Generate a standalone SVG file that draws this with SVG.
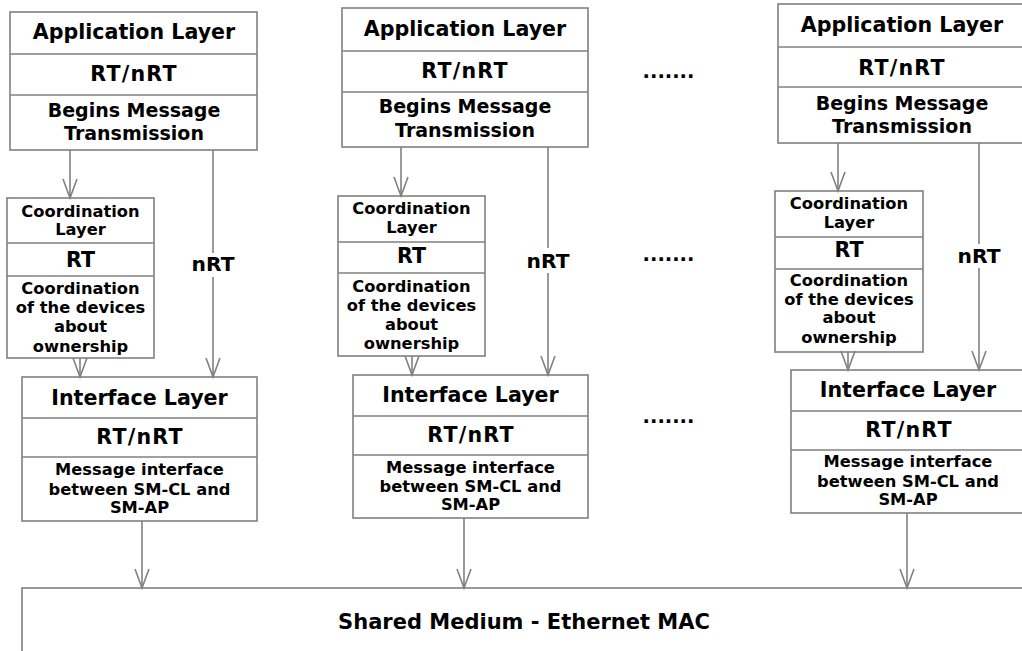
<svg xmlns="http://www.w3.org/2000/svg" width="1022" height="651" viewBox="0 0 1022 651">
  <defs>
    <style>
      .box { fill: #ffffff; stroke: #808080; stroke-width: 1.6; }
      .sep { stroke: #808080; stroke-width: 1.6; }
      .wire { fill: none; stroke: #808080; stroke-width: 1.6; }
      text { font-family: "DejaVu Sans", Verdana, sans-serif; font-weight: bold; fill: #000000; text-anchor: middle; }
      .title { font-size: 20.6px; }
      .rtn { font-size: 20.6px; letter-spacing: 1.2px; }
      .rt { font-size: 20.6px; }
      .mid { font-size: 19px; }
      .small { font-size: 16.3px; }
      .lbl { font-size: 20.3px; }
      .dots { font-size: 19.5px; }
      .bus { font-size: 21px; }
    </style>
    <marker id="vhead" markerUnits="userSpaceOnUse" viewBox="-22 -10 24 20" refX="0" refY="0" markerWidth="24" markerHeight="20" orient="auto" overflow="visible">
      <path d="M-19,-7 L0,0 L-19,7" fill="none" stroke="#808080" stroke-width="1.6"/>
    </marker>
  </defs>

  <!-- column 1 -->
  <g id="app1">
    <rect class="box" x="10" y="12" width="247" height="138"/>
    <line class="sep" x1="10" y1="54" x2="257" y2="54"/>
    <line class="sep" x1="10" y1="95" x2="257" y2="95"/>
    <text class="title" x="134" y="39">Application Layer</text>
    <text class="rtn" x="134" y="81">RT/nRT</text>
    <text class="mid" x="134" y="117">Begins Message</text>
    <text class="mid" x="134" y="140">Transmission</text>
  </g>
  <g id="coord1">
    <rect class="box" x="7" y="198" width="147" height="160"/>
    <line class="sep" x1="7" y1="243" x2="154" y2="243"/>
    <line class="sep" x1="7" y1="276" x2="154" y2="276"/>
    <text class="small" x="80.5" y="217">Coordination</text>
    <text class="small" x="80.5" y="235">Layer</text>
    <text class="rt" x="80.5" y="267">RT</text>
    <text class="small" x="80.5" y="294">Coordination</text>
    <text class="small" x="80.5" y="313">of the devices</text>
    <text class="small" x="80.5" y="332">about</text>
    <text class="small" x="80.5" y="352">ownership</text>
  </g>
  <g id="iface1">
    <rect class="box" x="22" y="377" width="235" height="144"/>
    <line class="sep" x1="22" y1="418" x2="257" y2="418"/>
    <line class="sep" x1="22" y1="457" x2="257" y2="457"/>
    <text class="title" x="139.5" y="405">Interface Layer</text>
    <text class="rtn" x="140" y="444">RT/nRT</text>
    <text class="small" x="139.5" y="475">Message interface</text>
    <text class="small" x="139.5" y="495">between SM-CL and</text>
    <text class="small" x="139.5" y="513">SM-AP</text>
  </g>

  <!-- column 2 -->
  <g id="app2">
    <rect class="box" x="342" y="8" width="246" height="139"/>
    <line class="sep" x1="342" y1="51" x2="588" y2="51"/>
    <line class="sep" x1="342" y1="92" x2="588" y2="92"/>
    <text class="title" x="465" y="36">Application Layer</text>
    <text class="rtn" x="465" y="78">RT/nRT</text>
    <text class="mid" x="465" y="113">Begins Message</text>
    <text class="mid" x="465" y="137">Transmission</text>
  </g>
  <g id="coord2">
    <rect class="box" x="338" y="196" width="147" height="160"/>
    <line class="sep" x1="338" y1="242" x2="485" y2="242"/>
    <line class="sep" x1="338" y1="273" x2="485" y2="273"/>
    <text class="small" x="411.5" y="214">Coordination</text>
    <text class="small" x="411.5" y="233">Layer</text>
    <text class="rt" x="411.5" y="263">RT</text>
    <text class="small" x="411.5" y="292">Coordination</text>
    <text class="small" x="411.5" y="311">of the devices</text>
    <text class="small" x="411.5" y="330">about</text>
    <text class="small" x="411.5" y="349">ownership</text>
  </g>
  <g id="iface2">
    <rect class="box" x="353" y="375" width="235" height="143"/>
    <line class="sep" x1="353" y1="416" x2="588" y2="416"/>
    <line class="sep" x1="353" y1="455" x2="588" y2="455"/>
    <text class="title" x="470.5" y="402">Interface Layer</text>
    <text class="rtn" x="471" y="442">RT/nRT</text>
    <text class="small" x="470.5" y="473">Message interface</text>
    <text class="small" x="470.5" y="492">between SM-CL and</text>
    <text class="small" x="470.5" y="510">SM-AP</text>
  </g>

  <!-- column 3 (runs past the right edge) -->
  <g id="app3">
    <rect class="box" x="778" y="4" width="248" height="139"/>
    <line class="sep" x1="778" y1="47" x2="1026" y2="47"/>
    <line class="sep" x1="778" y1="87" x2="1026" y2="87"/>
    <text class="title" x="902" y="32">Application Layer</text>
    <text class="rtn" x="902" y="75">RT/nRT</text>
    <text class="mid" x="902" y="110">Begins Message</text>
    <text class="mid" x="902" y="133">Transmission</text>
  </g>
  <g id="coord3">
    <rect class="box" x="775" y="191" width="148" height="161"/>
    <line class="sep" x1="775" y1="237" x2="923" y2="237"/>
    <line class="sep" x1="775" y1="269" x2="923" y2="269"/>
    <text class="small" x="849" y="209">Coordination</text>
    <text class="small" x="849" y="228">Layer</text>
    <text class="rt" x="849" y="257">RT</text>
    <text class="small" x="849" y="286">Coordination</text>
    <text class="small" x="849" y="305">of the devices</text>
    <text class="small" x="849" y="323">about</text>
    <text class="small" x="849" y="343">ownership</text>
  </g>
  <g id="iface3">
    <rect class="box" x="791" y="370" width="235" height="143"/>
    <line class="sep" x1="791" y1="411" x2="1026" y2="411"/>
    <line class="sep" x1="791" y1="450" x2="1026" y2="450"/>
    <text class="title" x="908" y="397">Interface Layer</text>
    <text class="rtn" x="909" y="437">RT/nRT</text>
    <text class="small" x="908" y="467">Message interface</text>
    <text class="small" x="908" y="487">between SM-CL and</text>
    <text class="small" x="908" y="505">SM-AP</text>
  </g>

  <!-- shared bus -->
  <g id="bus">
    <rect class="box" x="22" y="588" width="1020" height="90"/>
    <text class="bus" x="524" y="629">Shared Medium - Ethernet MAC</text>
  </g>

  <!-- ellipses between columns -->
  <g id="ellipses">
    <text class="dots" x="668.5" y="78">.......</text>
    <text class="dots" x="668.5" y="261">.......</text>
    <text class="dots" x="668.5" y="423">.......</text>
  </g>

  <!-- connectors -->
  <g id="connectors">
    <line class="wire" x1="70" y1="150" x2="70" y2="198" marker-end="url(#vhead)"/>
    <line class="wire" x1="213" y1="150" x2="213" y2="253"/>
    <line class="wire" x1="213" y1="277" x2="213" y2="377" marker-end="url(#vhead)"/>
    <line class="wire" x1="80" y1="358" x2="80" y2="377" marker-end="url(#vhead)"/>
    <line class="wire" x1="142" y1="521" x2="142" y2="588" marker-end="url(#vhead)"/>

    <line class="wire" x1="401" y1="147" x2="401" y2="196" marker-end="url(#vhead)"/>
    <line class="wire" x1="548" y1="147" x2="548" y2="248"/>
    <line class="wire" x1="548" y1="273" x2="548" y2="375" marker-end="url(#vhead)"/>
    <line class="wire" x1="412" y1="356" x2="412" y2="375" marker-end="url(#vhead)"/>
    <line class="wire" x1="464" y1="518" x2="464" y2="588" marker-end="url(#vhead)"/>

    <line class="wire" x1="838" y1="143" x2="838" y2="191" marker-end="url(#vhead)"/>
    <line class="wire" x1="979" y1="143" x2="979" y2="244"/>
    <line class="wire" x1="979" y1="268" x2="979" y2="370" marker-end="url(#vhead)"/>
    <line class="wire" x1="848" y1="352" x2="848" y2="370" marker-end="url(#vhead)"/>
    <line class="wire" x1="907" y1="513" x2="907" y2="588" marker-end="url(#vhead)"/>
    <text class="lbl" x="213" y="271">nRT</text>
    <text class="lbl" x="548" y="268">nRT</text>
    <text class="lbl" x="979" y="263">nRT</text>
  </g>
</svg>
